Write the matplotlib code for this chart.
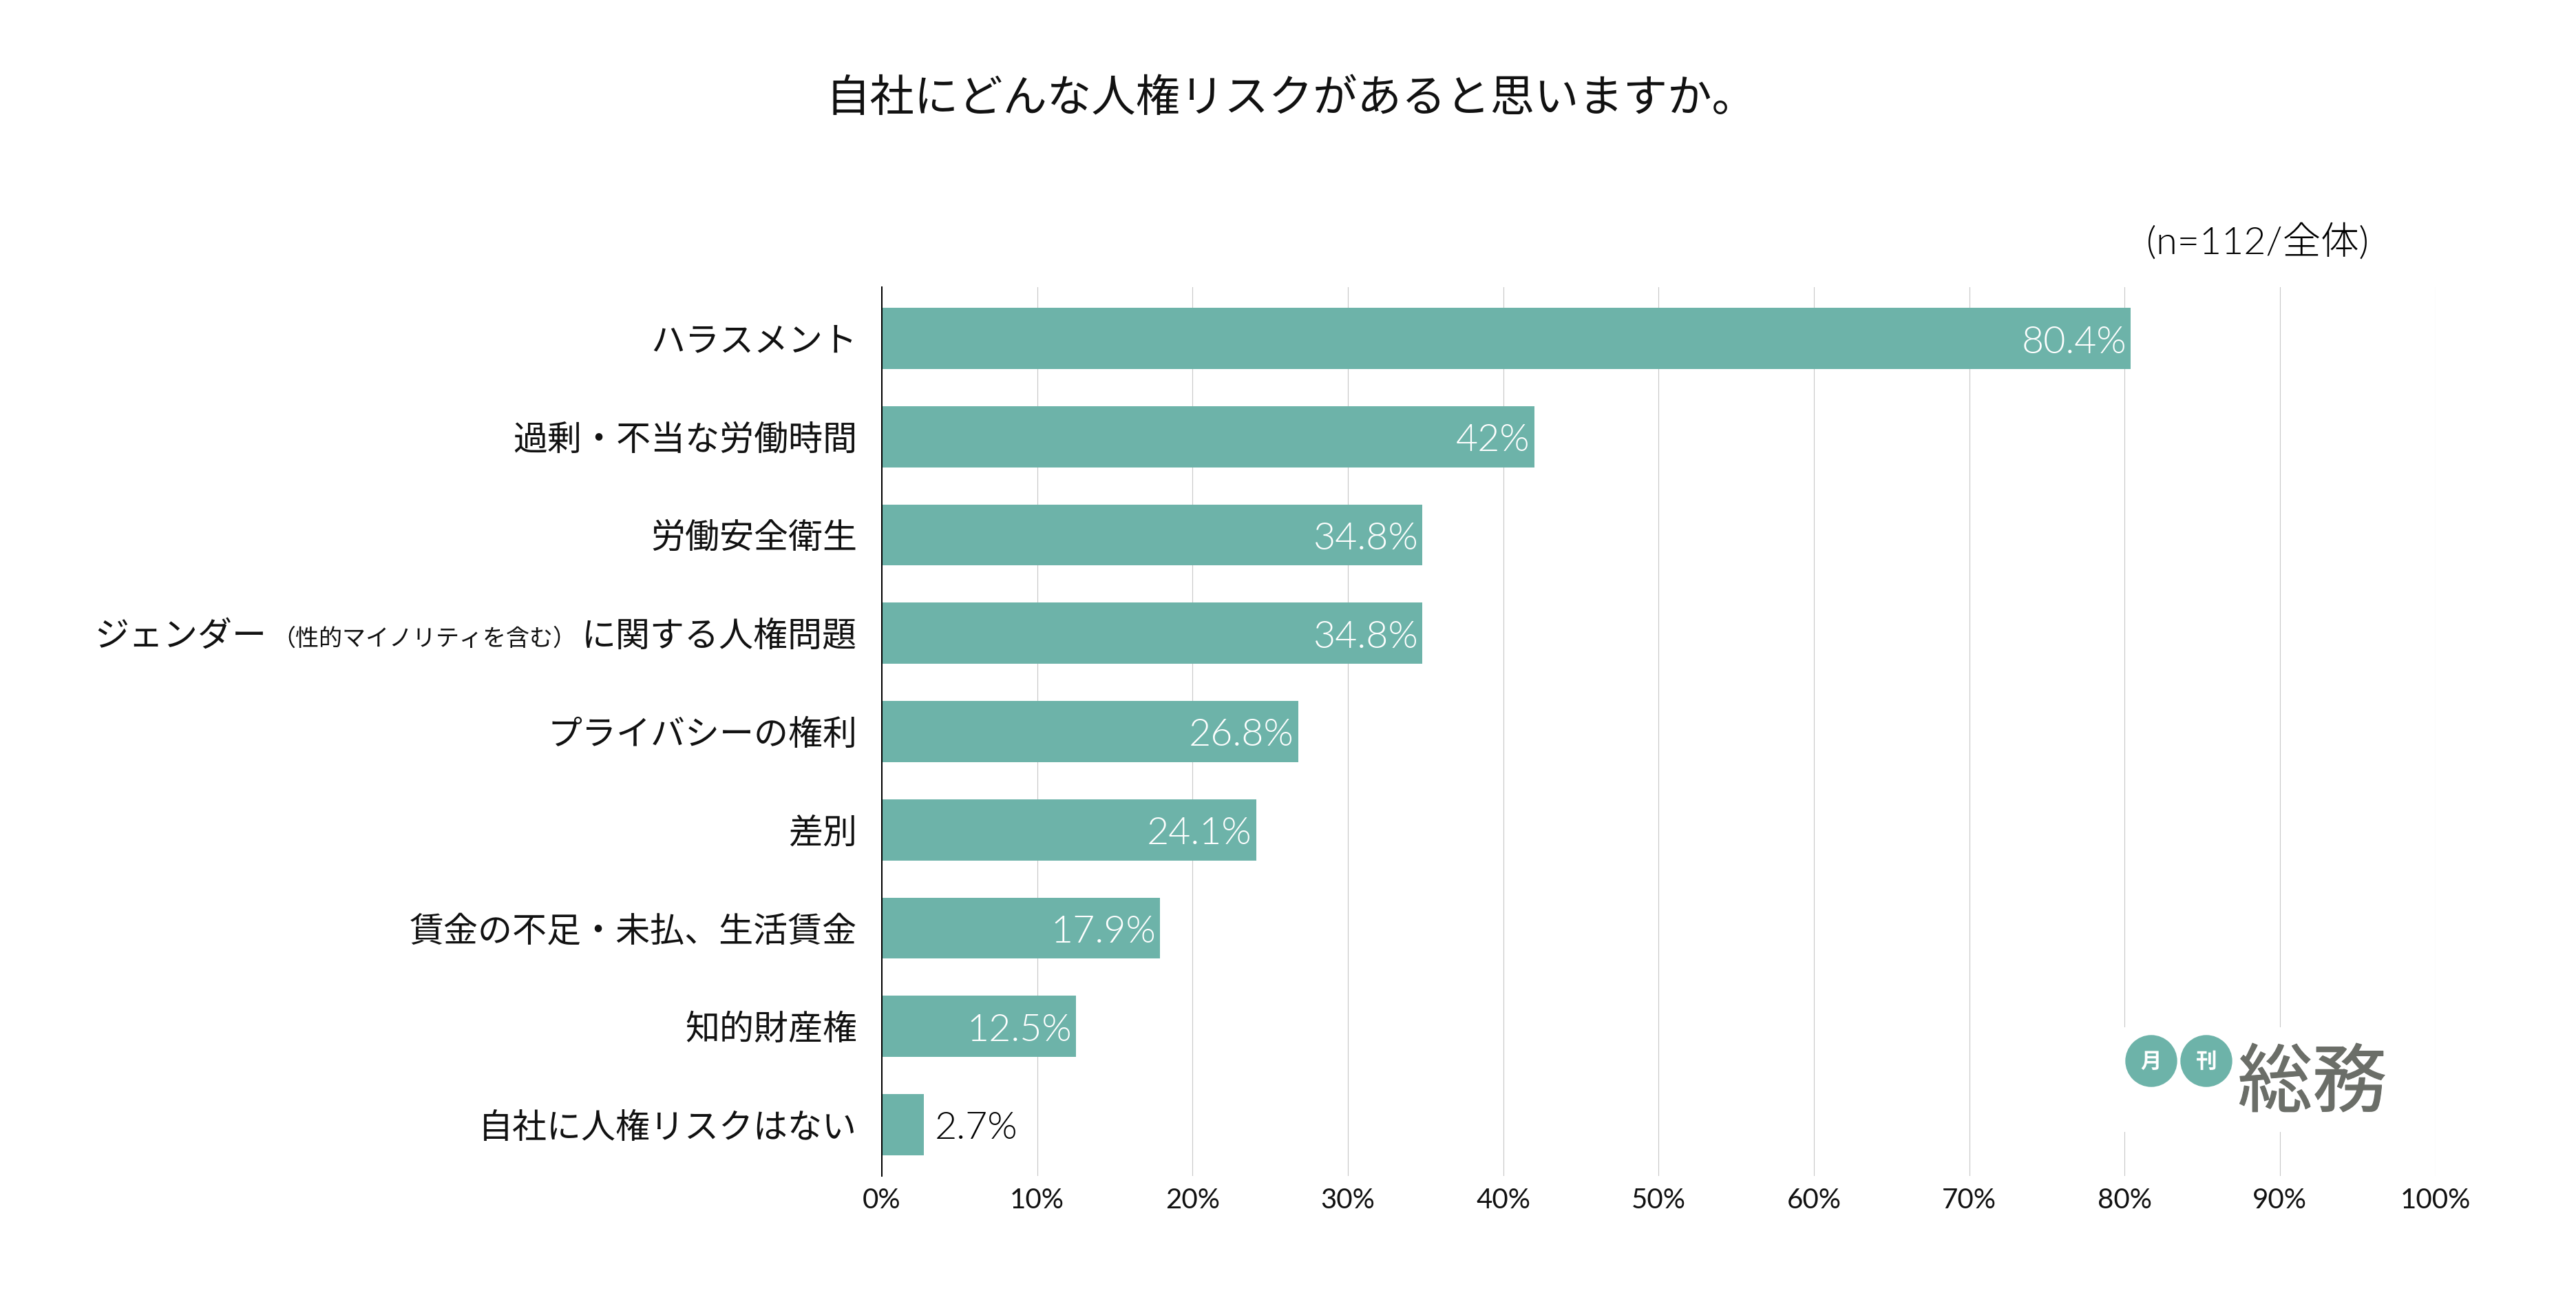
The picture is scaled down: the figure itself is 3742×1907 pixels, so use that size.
import matplotlib
matplotlib.use("Agg")
import matplotlib.pyplot as plt
import matplotlib.patheffects as pe
from matplotlib.patches import Circle

plt.rcParams['font.family'] = ['Lato', 'Noto Sans CJK JP', 'DejaVu Sans']

titulo = "自社にどんな人権リスクがあると思いますか。"
nota = "(n=112/全体)"
categorias = [
    "ハラスメント",
    "過剰・不当な労働時間",
    "労働安全衛生",
    "に関する人権問題",
    "プライバシーの権利",
    "差別",
    "賃金の不足・未払、生活賃金",
    "知的財産権",
    "自社に人権リスクはない",
]
valores = [80.4, 42, 34.8, 34.8, 26.8, 24.1, 17.9, 12.5, 2.7]
ticks = [0, 10, 20, 30, 40, 50, 60, 70, 80, 90, 100]
color_barra = "#6db3a9"
color_logo = "#6b6e68"

W, H = 3742, 1908
fig = plt.figure(figsize=(W / 100, H / 100), dpi=100, facecolor="white")
ax = fig.add_axes([1281 / W, (H - 1708.7) / H, (3537.5 - 1281) / W, (1708.7 - 418) / H])

pos = list(range(len(categorias)))
ax.barh(pos, valores, height=0.623, color=color_barra, zorder=2)
ax.set_xlim(0, 100)
ax.set_ylim(8.52, -0.522)

ax.set_xticks(ticks)
ax.set_xticklabels([f"{t}%" for t in ticks], fontsize=29)
ax.tick_params(axis="x", length=0, pad=12, colors="#111111")
ax.set_yticks([])
ax.grid(axis="x", color="#c8c8c8", lw=0.8, zorder=1)
ax.set_axisbelow(True)
for s in ["top", "right", "bottom"]:
    ax.spines[s].set_visible(False)
ax.spines["left"].set_color("black")
ax.spines["left"].set_linewidth(1.45)
ax.spines["left"].set_zorder(3)

# etiquetas de categoria a la izquierda
for i, cat in enumerate(categorias):
    t = ax.annotate(cat, (0, i), xytext=(-36, -4), textcoords="offset pixels",
                    ha="right", va="center", fontsize=36, color="#111111")
    if i == 3:
        t2 = ax.annotate("（性的マイノリティを含む）", xy=(0, 0.5), xycoords=t,
                         xytext=(-8, -3), textcoords="offset pixels",
                         ha="right", va="center", fontsize=24.5, color="#111111")
        ax.annotate("ジェンダー", xy=(0, 0.5), xycoords=t2,
                    xytext=(-8, 3), textcoords="offset pixels",
                    ha="right", va="center", fontsize=36, color="#111111")

# valores
for i, v in enumerate(valores):
    if v < 5:
        ax.annotate(f"{v:g}%", (v, i), xytext=(16, -5), textcoords="offset pixels",
                    ha="left", va="center", fontsize=40, color="black", fontweight=300, zorder=4)
    else:
        ax.annotate(f"{v:g}%", (v, i), xytext=(-6, -5), textcoords="offset pixels",
                    ha="right", va="center", fontsize=40, color="white", fontweight=300, zorder=4)

fig.text(1875 / W, 1 - 143 / H, titulo, ha="center", va="center", fontsize=46.4, color="#111111")
fig.text(3441 / W, 1 - 352 / H, nota, ha="right", va="center", fontsize=40, color="black", fontweight=300)

# logo
lg_x0, lg_x1, lg_y0, lg_y1 = 3080, 3480, 1493, 1645
lg = fig.add_axes([lg_x0 / W, (H - lg_y1) / H, (lg_x1 - lg_x0) / W, (lg_y1 - lg_y0) / H], zorder=5)
lg.set_xlim(lg_x0, lg_x1)
lg.set_ylim(lg_y1, lg_y0)
lg.set_xticks([])
lg.set_yticks([])
for s in lg.spines.values():
    s.set_visible(False)
lg.add_patch(Circle((3125, 1542), 37, color=color_barra))
lg.add_patch(Circle((3205, 1542), 37, color=color_barra))
lg.text(3125, 1542, "月", ha="center", va="center", fontsize=22, color="white", fontweight="bold")
lg.text(3205, 1542, "刊", ha="center", va="center", fontsize=22, color="white", fontweight="bold")
lg.text(3359, 1576, "総務", ha="center", va="center", fontsize=78, color=color_logo,
        path_effects=[pe.withStroke(linewidth=0.8, foreground=color_logo)])

fig.savefig("out.png", dpi=100)
